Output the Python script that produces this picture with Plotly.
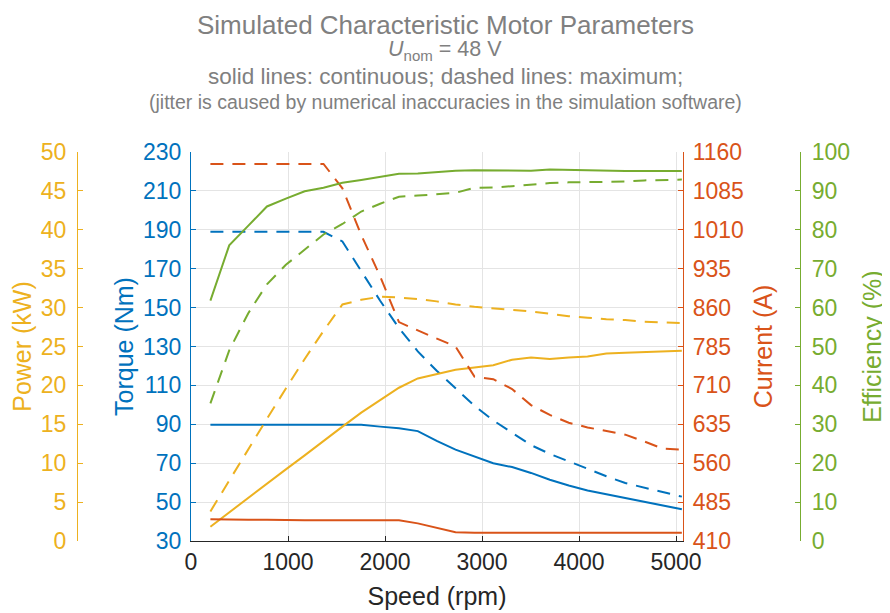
import plotly.graph_objects as go

# ---------------- data ----------------
speed = [200, 394, 589, 783, 978, 1172, 1366, 1561, 1755, 1950, 2144, 2338, 2533,
         2727, 2922, 3116, 3310, 3505, 3699, 3894, 4088, 4282, 4477, 4671, 4866, 5060]

torque_cont = [89.8, 89.8, 89.7, 89.7, 89.8, 89.8, 90.0, 90.0, 89.8, 88.8, 88.0, 86.5, 81.5,
               77.0, 73.5, 70.0, 68.0, 65.0, 61.5, 58.5, 56.0, 54.0, 52.0, 50.0, 48.0, 46.3]
torque_max = [189, 189, 189, 189, 189, 189, 189, 184, 168.5, 153.5, 139.5, 127.5, 117.5,
              108.5, 99.5, 92, 85.5, 79.3, 74.8, 70.9, 67.1, 63.3, 59.8, 57.5, 55.1, 52.8]

power_cont = [1.84, 3.7, 5.5, 7.4, 9.2, 11.0, 12.9, 14.7, 16.5, 18.1, 19.7, 20.9, 21.5,
              22.0, 22.3, 22.6, 23.3, 23.6, 23.4, 23.6, 23.7, 24.1, 24.2, 24.3, 24.35, 24.45]
power_max = [3.8, 7.8, 11.8, 15.7, 19.6, 23.4, 27.0, 30.4, 31.0, 31.4, 31.3, 31.1, 30.8,
             30.4, 30.1, 29.9, 29.7, 29.5, 29.2, 28.9, 28.7, 28.5, 28.4, 28.2, 28.1, 28.0]

current_cont = [452, 451, 451, 451, 450, 450, 450, 450, 450, 450, 450, 444, 436,
                427, 426, 426, 426, 426, 426, 426, 426, 426, 426, 426, 426, 426]
current_max = [1137, 1137, 1137, 1137, 1137, 1137, 1137, 1090, 1000, 920, 832, 816, 800,
               785, 727, 722, 703, 672, 653, 638, 629, 622, 615, 602, 588, 586]

eff_cont = [61.8, 76.0, 81.0, 86.0, 88.0, 89.9, 90.8, 92.1, 92.8, 93.6, 94.4, 94.5, 94.9,
            95.2, 95.3, 95.3, 95.2, 95.2, 95.5, 95.4, 95.2, 95.1, 95.1, 95.1, 95.1, 95.1]
eff_max = [35.4, 49.0, 58.5, 66.0, 71.0, 75.0, 78.8, 81.5, 84.7, 86.7, 88.5, 88.8, 89.1,
           89.5, 90.8, 90.9, 91.2, 91.6, 92.0, 92.2, 92.3, 92.3, 92.4, 92.7, 92.8, 92.9]

x_ticks = [0, 1000, 2000, 3000, 4000, 5000]
torque_ticks = list(range(30, 231, 20))
current_ticks = list(range(410, 1161, 75))
power_ticks = list(range(0, 51, 5))
eff_ticks = list(range(0, 101, 10))

# ---------------- style ----------------
W, H = 890, 613
OFF = 8  # page body margin offset
BLUE, ORANGE, YELLOW, GREEN = "#0072BD", "#D95319", "#EDB120", "#77AC30"
FONT = "Liberation Sans"
DASH = "13px,9px"
LW = 2

def px_x(p):
    return (p - OFF) / W

def px_y(p):
    return 1 - (p - OFF) / H

fig = go.Figure()

def add(y, axis, color, dashed):
    fig.add_trace(go.Scatter(
        x=speed, y=y, yaxis=axis, mode="lines",
        line=dict(color=color, width=LW, dash=DASH if dashed else "solid"),
        showlegend=False, hoverinfo="x+y"))

add(power_cont, "y2", YELLOW, False)
add(power_max, "y2", YELLOW, True)
add(current_cont, "y3", ORANGE, False)
add(current_max, "y3", ORANGE, True)
add(eff_cont, "y4", GREEN, False)
add(eff_max, "y4", GREEN, True)
add(torque_cont, "y", BLUE, False)
add(torque_max, "y", BLUE, True)

ydom = [px_y(541), px_y(152)]
TICKF = 23
TITLEF = 25

common = dict(ticks="inside", ticklen=5, showline=True, linewidth=1.2,
              zeroline=False, automargin=False, domain=ydom)

fig.update_layout(
    width=W, height=H,
    margin=dict(l=0, r=0, t=0, b=0),
    paper_bgcolor="white", plot_bgcolor="white",
    font=dict(family=FONT, color="#262626"),
    xaxis=dict(domain=[px_x(191), px_x(683)], range=[0, 5072],
               tickvals=x_ticks, ticks="inside", ticklen=5, tickcolor="#262626",
               showline=True, linecolor="#262626", linewidth=1.2,
               showgrid=True, gridcolor="#e4e4e4", gridwidth=1, zeroline=False,
               tickfont=dict(size=TICKF, color="#262626"),
               title=dict(text="Speed (rpm)", font=dict(size=TITLEF, color="#262626"), standoff=13),
               automargin=False),
    yaxis=dict(range=[30, 230], tickvals=torque_ticks, side="left", anchor="x",
               linecolor=BLUE, tickcolor=BLUE, showgrid=True, gridcolor="#e4e4e4",
               tickfont=dict(size=TICKF, color=BLUE), ticklabelstandoff=4,
               title=dict(text="Torque (Nm)", font=dict(size=TITLEF, color=BLUE), standoff=2),
               **common),
    yaxis2=dict(range=[0, 50], tickvals=power_ticks, side="left", anchor="free",
                overlaying="y", position=px_x(77),
                linecolor=YELLOW, tickcolor=YELLOW, showgrid=False,
                tickfont=dict(size=TICKF, color=YELLOW), ticklabelstandoff=6,
                title=dict(text="Power (kW)", font=dict(size=TITLEF, color=YELLOW), standoff=7),
                **common),
    yaxis3=dict(range=[410, 1160], tickvals=current_ticks, side="right", anchor="x",
                overlaying="y",
                linecolor=ORANGE, tickcolor=ORANGE, showgrid=False,
                tickfont=dict(size=TICKF, color=ORANGE), ticklabelstandoff=4,
                title=dict(text="Current (A)", font=dict(size=TITLEF, color=ORANGE), standoff=11),
                **common),
    yaxis4=dict(range=[0, 100], tickvals=eff_ticks, side="right", anchor="free",
                overlaying="y", position=px_x(800),
                linecolor=GREEN, tickcolor=GREEN, showgrid=False,
                tickfont=dict(size=TICKF, color=GREEN), ticklabelstandoff=6,
                title=dict(text="Efficiency (%)", font=dict(size=TITLEF, color=GREEN), standoff=14),
                **common),
)

GRAY = "#808080"
title_lines = [
    ("Simulated Characteristic Motor Parameters", 24.5, 26),
    ("<i>U</i><sub>nom</sub> = 48 V", 50, 21.5),
    ("solid lines: continuous; dashed lines: maximum;", 77, 22.5),
    ("(jitter is caused by numerical inaccuracies in the simulation software)", 102, 19.5),
]
for text, yc, size in title_lines:
    fig.add_annotation(text=text, x=px_x(445), y=px_y(yc), xref="paper", yref="paper",
                       xanchor="center", yanchor="middle", showarrow=False,
                       font=dict(family=FONT, size=size, color=GRAY))

fig.write_html("out.html")
